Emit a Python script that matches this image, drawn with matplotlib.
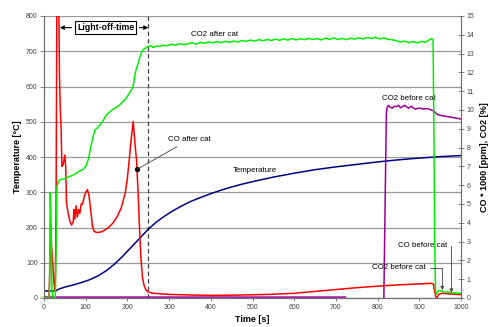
import numpy as np
import matplotlib
matplotlib.use("Agg")
import matplotlib.pyplot as plt

plt.rcParams['font.family'] = ['Liberation Sans', 'DejaVu Sans']

# ---------------- data ----------------
# Temperature [°C] (left axis)
temp_t = [0, 28, 35, 50, 70, 90, 110, 130, 150, 170,
          190, 210, 230, 250, 270, 290, 310, 330, 350, 375,
          400, 425, 450, 475, 500, 550, 600, 650, 700, 750,
          800, 850, 900, 950, 1000]
temp_v = [20, 20, 25, 31, 37, 44, 52, 63, 78, 97,
          120, 145, 170, 195, 216, 233, 248, 261, 273, 285,
          296, 306, 315, 323, 330, 343, 354, 364, 372, 379,
          386, 392, 397, 401, 404]

# CO2 after cat [%] (right axis)
co2_after_t = [0, 13, 15, 17, 19, 22, 27, 29, 31, 34,
               40, 50, 62, 75, 85, 94, 100, 106, 112, 118,
               122, 128, 134, 142, 150, 158, 166, 174, 182, 190,
               198, 206, 210, 214, 218, 222, 226, 230, 234, 238,
               244, 250, 256, 262, 270, 278, 286, 295, 305, 315,
               325, 335, 345, 355, 365, 375, 385, 395, 405, 415,
               425, 435, 445, 455, 465, 475, 485, 495, 505, 515,
               525, 535, 545, 555, 565, 575, 585, 595, 605, 615,
               625, 635, 645, 655, 665, 675, 685, 695, 705, 715,
               725, 735, 745, 755, 765, 775, 785, 795, 805, 815,
               825, 835, 845, 855, 865, 875, 885, 895, 905, 915,
               925, 930, 933, 935, 937, 939, 941, 944, 948, 955,
               965, 975, 985, 1000]
co2_after_v = [0, 0, 5.6, 4.0, 0.5, 0, 0, 2.5, 5.9, 6.2,
               6.3, 6.35, 6.47, 6.6, 6.75, 6.84, 7.0, 7.35, 8.0, 8.6,
               8.94, 9.05, 9.21, 9.45, 9.75, 9.9, 10.05, 10.15, 10.28, 10.45,
               10.65, 10.95, 11.08, 11.3, 11.87, 12.23, 12.5, 12.84, 13.05, 13.22,
               13.3, 13.38, 13.42, 13.33, 13.4, 13.38, 13.45, 13.42, 13.5, 13.45,
               13.52, 13.48, 13.52, 13.58, 13.5, 13.6, 13.55, 13.62, 13.57, 13.64,
               13.58, 13.66, 13.6, 13.67, 13.62, 13.7, 13.65, 13.72, 13.66, 13.74,
               13.68, 13.75, 13.7, 13.77, 13.71, 13.78, 13.72, 13.8, 13.73, 13.79,
               13.74, 13.81, 13.75, 13.8, 13.73, 13.82, 13.76, 13.83, 13.75, 13.81,
               13.74, 13.82, 13.77, 13.84, 13.78, 13.86, 13.8, 13.87, 13.78, 13.83,
               13.76, 13.74, 13.68, 13.62, 13.66, 13.58, 13.64, 13.57, 13.65, 13.6,
               13.75, 13.8, 13.7, 9.0, 3.0, 0.3, 0.2, 0.35, 0.4, 0.35,
               0.32, 0.3, 0.27, 0.25]

# CO after cat [ppm / 1000] (right axis)
co_after_t = [0, 12, 14, 16, 18, 21, 24, 27, 29, 31,
              35, 37, 39, 41, 43, 46, 50, 52, 54, 58,
              62, 66, 70, 72, 74, 77, 80, 83, 86, 89,
              92, 96, 100, 104, 108, 112, 116, 120, 125, 135,
              145, 155, 165, 175, 185, 195, 200, 205, 210, 214,
              218, 222, 226, 229, 232, 236, 240, 245, 250, 260,
              280, 300, 350, 400, 450, 500, 550, 600, 650, 700,
              750, 800, 850, 900, 920, 930, 934, 937, 940, 943,
              947, 955, 970, 985, 1000]
co_after_v = [0, 0, 1.5, 3.9, 2.8, 1.9, 0.75, 0.35, 5.0, 17,
              17, 12, 10.1, 9.0, 7.0, 7.1, 7.6, 7.0, 5.06, 4.5,
              4.1, 3.88, 4.03, 4.7, 4.2, 4.9, 4.3, 4.7, 4.5, 5.0,
              4.97, 5.34, 5.63, 5.76, 5.44, 4.7, 3.84, 3.56, 3.49, 3.5,
              3.6, 3.75, 3.98, 4.31, 4.78, 5.6, 6.38, 7.5, 8.63, 9.38,
              8.25, 7.31, 5.44, 3.75, 2.25, 1.13, 0.66, 0.41, 0.32, 0.26,
              0.22, 0.19, 0.16, 0.14, 0.15, 0.17, 0.2, 0.25, 0.35, 0.45,
              0.55, 0.63, 0.7, 0.75, 0.77, 0.78, 0.74, 0.3, 0.05, 0.04,
              0.2, 0.25, 0.22, 0.2, 0.18]

# CO2 before cat [%] (right axis)
co2_before_t = [0, 723, 724, 815, 818, 821, 823, 826, 830, 835,
                840, 845, 850, 855, 860, 865, 870, 875, 880, 885,
                890, 900, 910, 920, 928, 935, 940, 945, 950, 960,
                970, 980, 990, 1000]
co2_before_v = [0.05, 0.05, np.nan, 0, 5, 9.8, 10.15, 10.25, 10.15, 10.1,
                10.2, 10.18, 10.25, 10.12, 10.18, 10.25, 10.15, 10.1, 10.2, 10.12,
                10.05, 10.1, 10.05, 10.08, 10.0, 9.95, 9.82, 9.75, 9.72, 9.68,
                9.64, 9.6, 9.56, 9.52]

light_off_end = 250
x_ticks = list(range(0, 1001, 100))
left_ticks = list(range(0, 801, 100))
right_ticks = list(range(0, 16))

# ---------------- figure ----------------
fig = plt.figure(figsize=(4.97, 3.27), dpi=100)
ax = fig.add_axes([44/497, 1 - 298/327, (461 - 44)/497, (298 - 16)/327])
ax2 = ax.twinx()

grid_c = '#999999'
spine_c = '#707070'
tick_c = '#404040'

ax.set_xlim(0, 1000)
ax.set_ylim(0, 800)
ax2.set_ylim(0, 15)
ax.set_xticks(x_ticks)
ax.set_yticks(left_ticks)
ax2.set_yticks(right_ticks)
ax.yaxis.grid(True, color=grid_c, lw=0.9)
ax.set_axisbelow(True)

for a in (ax, ax2):
    a.spines['top'].set_visible(False)
    for s in ('left', 'right', 'bottom'):
        a.spines[s].set_color(spine_c)
        a.spines[s].set_linewidth(0.8)
ax.tick_params(axis='y', direction='out', length=3, width=0.6, color=spine_c,
               labelsize=5, labelcolor=tick_c, pad=1.5)
ax.tick_params(axis='x', direction='out', length=2, width=0.6, color=spine_c,
               labelsize=5, labelcolor=tick_c, pad=2)
ax2.tick_params(axis='y', direction='inout', length=4, width=0.6, color=spine_c,
                labelsize=5, labelcolor=tick_c, pad=2)

# lines
ax.plot(temp_t, temp_v, color='#000080', lw=1.1, zorder=3)
ax.axvline(light_off_end, color='#404040', lw=0.9, ls=(0, (3.5, 2.5)), zorder=2)
ax2.plot(co2_before_t, co2_before_v, color='#990099', lw=1.1, zorder=3)
ax2.plot(co_after_t, co_after_v, color='#ff0000', lw=1.1, zorder=4)
ax2.plot(co2_after_t, co2_after_v, color='#00ee00', lw=1.1, zorder=5)

# axis labels
ax.set_xlabel('Time [s]', fontsize=6.5, fontweight='bold', labelpad=3)
ax.set_ylabel('Temperature [°C]', fontsize=6.5, fontweight='bold', labelpad=3)
ax2.set_ylabel('CO * 1000 [ppm], CO2 [%]', fontsize=6.5, fontweight='bold',
               labelpad=4)

fs = 5.7
# text annotations
ax.text(408, 747, 'CO2 after cat', fontsize=fs, ha='center', va='center')
ax.text(505, 361, 'Temperature', fontsize=fs, ha='center', va='center')
ax2.text(874, 10.6, 'CO2 before cat', fontsize=fs, ha='center', va='center')

# CO after cat with dot leader
dot_t = 223
dot_v = np.interp(dot_t, co_after_t, co_after_v)
ax2.plot([dot_t], [dot_v], 'o', color='black', ms=2.8, zorder=6)
ax2.annotate('CO after cat', xy=(dot_t, dot_v), xytext=(297, 8.42),
             fontsize=fs, ha='left', va='center',
             arrowprops=dict(arrowstyle='-', color='#404040', lw=0.6,
                             shrinkA=1, shrinkB=0), zorder=6)

# light-off-time box with arrows
ax.text(148, 767, 'Light-off-time', fontsize=6.3, fontweight='bold',
        ha='center', va='center', zorder=7,
        bbox=dict(boxstyle='square,pad=0.25', fc='white', ec='black', lw=0.8))
ax.annotate('', xy=(38, 767), xytext=(66, 767),
            arrowprops=dict(arrowstyle='-|>', color='black', lw=0.8,
                            mutation_scale=6, shrinkA=0, shrinkB=0), zorder=7)
ax.annotate('', xy=(light_off_end, 767), xytext=(229, 767),
            arrowprops=dict(arrowstyle='-|>', color='black', lw=0.8,
                            mutation_scale=6, shrinkA=0, shrinkB=0), zorder=7)

# bottom-right labels with elbow leaders
g_t = 955
g_v = np.interp(g_t, co2_after_t, co2_after_v)
ax2.annotate('CO2 before cat', xy=(g_t, g_v + 0.08), xytext=(915, 1.6),
             fontsize=fs, ha='right', va='center',
             arrowprops=dict(arrowstyle='-|>', color='#404040', lw=0.6,
                             mutation_scale=5, shrinkA=1, shrinkB=0,
                             connectionstyle='angle,angleA=0,angleB=90,rad=0'),
             zorder=7)
r_t = 977
r_v = np.interp(r_t, co_after_t, co_after_v)
ax2.annotate('CO before cat', xy=(r_t, r_v + 0.08), xytext=(968, 2.8),
             fontsize=fs, ha='right', va='center',
             arrowprops=dict(arrowstyle='-|>', color='#404040', lw=0.6,
                             mutation_scale=5, shrinkA=1, shrinkB=0,
                             connectionstyle='angle,angleA=0,angleB=90,rad=0'),
             zorder=7)

fig.savefig('out.png', dpi=100, facecolor='white')
